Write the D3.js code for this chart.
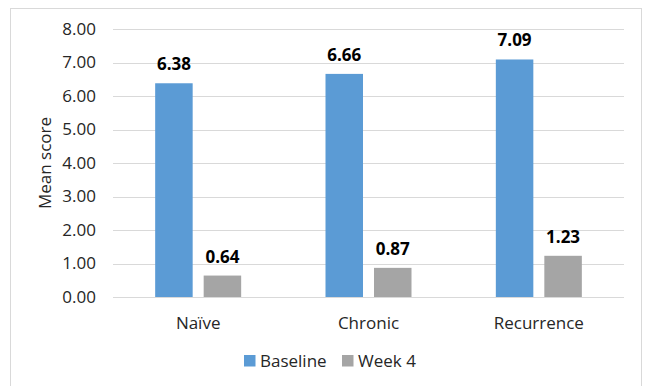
<!DOCTYPE html>
<html><head><meta charset="utf-8">
<script src="https://cdn.jsdelivr.net/npm/d3@7"></script>
<style>body{margin:0;background:#fff}svg{display:block;font-family:"Open Sans",sans-serif}</style>
</head><body>
<svg id="c" width="645" height="386"></svg>
<script>
const categories = ["Naïve", "Chronic", "Recurrence"];
const seriesNames = ["Baseline", "Week 4"];
const baseline = [6.38, 6.66, 7.09];
const week4 = [0.64, 0.87, 1.23];
const yTicks = [0, 1, 2, 3, 4, 5, 6, 7, 8];
const colors = ["#5B9BD5", "#A5A5A5"];

const FS = 17;
const svg = d3.select("#c");
const margin = {left: 113, right: 21, top: 29, bottom: 89};
const W = 645, H = 386;
const x0 = d3.scaleBand().domain(categories).range([margin.left, W - margin.right]).paddingInner(0).paddingOuter(0);
const groupW = 86;
const barW = 37.5;
const gap = 11;
const y = d3.scaleLinear().domain([0, 8]).range([H - margin.bottom, margin.top]);

// frame
svg.append("rect").attr("x", 10.5).attr("y", 8.5).attr("width", 631).attr("height", 400)
  .attr("fill", "none").attr("stroke", "#D9D9D9");

// gridlines
svg.append("g").selectAll("line").data(yTicks).join("line")
  .attr("x1", margin.left).attr("x2", W - margin.right)
  .attr("y1", d => Math.round(y(d)) + 0.5).attr("y2", d => Math.round(y(d)) + 0.5)
  .attr("stroke", "#D9D9D9").attr("stroke-width", 1);

// y axis labels
const yAxis = d3.axisLeft(y).tickValues(yTicks).tickFormat(d3.format(".2f")).tickSize(0).tickPadding(0);
const ga = svg.append("g").attr("transform", `translate(${96},0)`).call(yAxis);
ga.select(".domain").remove();
ga.selectAll("text").attr("font-size", FS).attr("fill", "#262626").attr("font-family", "'Open Sans',sans-serif");

svg.append("text").attr("transform", `translate(51,${y(4)}) rotate(-90)`)
  .attr("text-anchor", "middle").attr("font-size", FS).attr("fill", "#262626").text("Mean score");

const data = categories.map((c, i) => ({c, vals: [baseline[i], week4[i]]}));
const g = svg.append("g");
data.forEach(d => {
  const cx = x0(d.c) + x0.bandwidth() / 2;
  d.vals.forEach((v, j) => {
    const bx = cx - groupW / 2 + j * (barW + gap);
    g.append("rect").attr("x", bx).attr("y", y(v)).attr("width", barW).attr("height", y(0) - y(v))
      .attr("fill", colors[j]);
    g.append("text").attr("x", bx + barW / 2).attr("y", y(v) - 13).attr("text-anchor", "middle")
      .attr("font-size", FS).attr("font-weight", "bold").attr("fill", "#000").text(v.toFixed(2));
  });
  g.append("text").attr("x", cx).attr("y", 329).attr("text-anchor", "middle")
    .attr("font-size", FS).attr("fill", "#262626").text(d.c);
});

// legend
const legX = [244, 342];
seriesNames.forEach((s, j) => {
  svg.append("rect").attr("x", legX[j]).attr("y", 355).attr("width", 11.5).attr("height", 11.5).attr("fill", colors[j]);
  svg.append("text").attr("x", legX[j] + 16).attr("y", 367).attr("font-size", FS).attr("fill", "#262626").text(s);
});
</script>
</body></html>
